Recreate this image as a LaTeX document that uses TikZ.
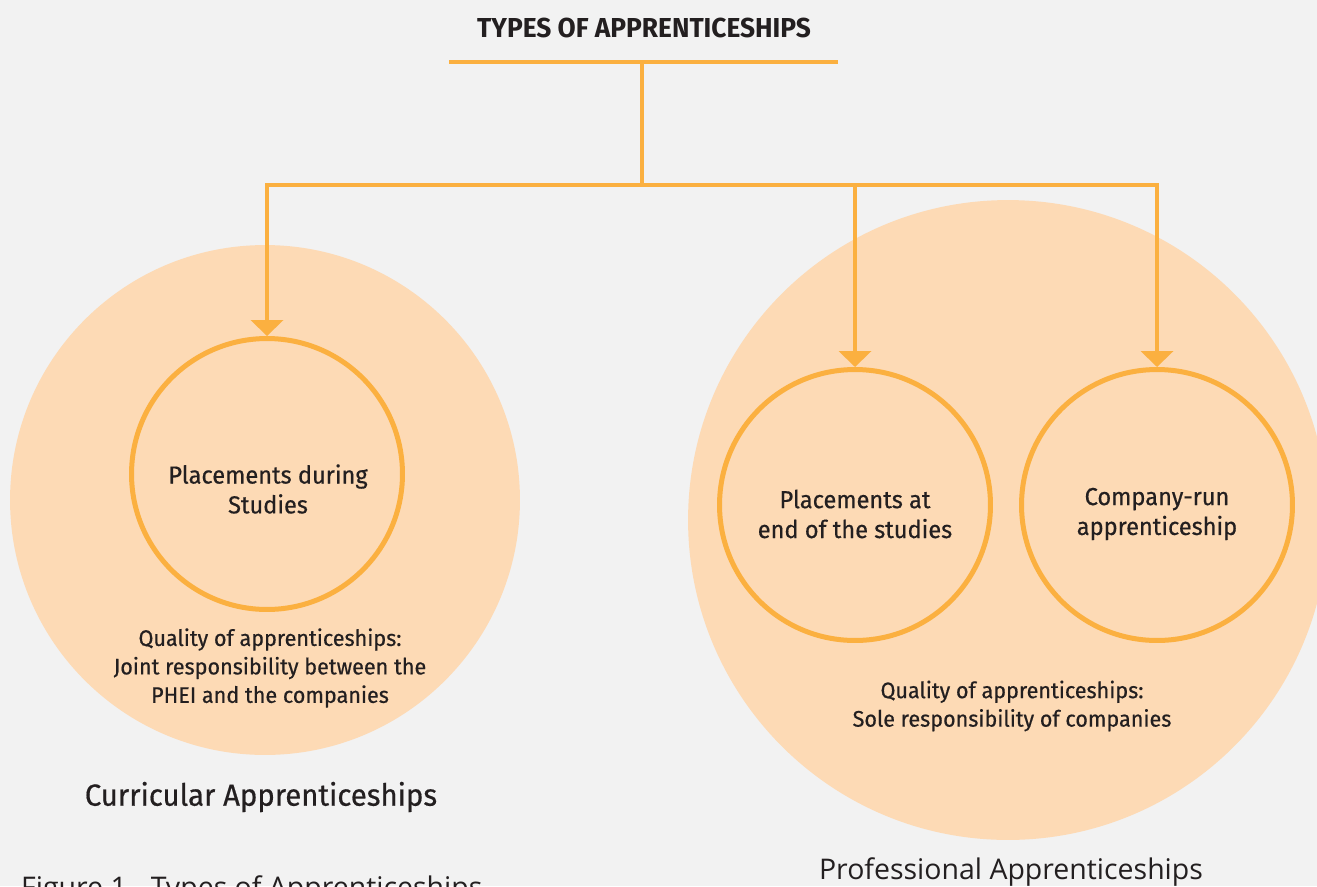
\documentclass[tikz,border=0pt]{standalone}
\usepackage{fontspec}
\setmainfont[FakeStretch=0.96,UprightFeatures={FakeBold=0.5}]{Fira Sans}
\newfontfamily\capfont{Open Sans}
\usetikzlibrary{arrows.meta}
\definecolor{bgcol}{HTML}{F2F2F2}
\definecolor{peach}{HTML}{FDDAB5}
\definecolor{amber}{HTML}{FBB040}
\definecolor{ink}{HTML}{231F20}

\begin{document}
\begin{tikzpicture}
            [x=0.02cm,y=-0.02cm,every node/.style={text=ink,align=center},
             group/.style={circle,fill=peach,minimum size=#1,inner sep=0pt},
             kind/.style={circle,draw=amber,line width=0.1cm,minimum size=5.42cm,inner sep=0pt},
             body/.style={font=\fontsize{14}{17}\selectfont},
             link/.style={draw=amber,line width=0.08cm},
             flow/.style={link,-{Triangle[width=0.64cm,length=0.32cm]}},
             note/.style={font=\fontsize{12.8}{16.2}\selectfont}]
            \useasboundingbox (0,0) rectangle (1317,886);
            \fill[bgcol] (0,0) rectangle (1317,886);

            % the two groups
            \node[group=10.2cm] (CUR) at (265,500) {};
            \node[group=12.8cm] (PRO) at (1008,520) {};

            \node[font=\fontsize{15.6}{18}\selectfont\bfseries] (title) at (644,28) {TYPES OF APPRENTICESHIPS};
            \coordinate (barL) at (449,62);
            \coordinate (barR) at (838,62);
            \coordinate (barM) at (642,62);
            \coordinate (hub) at (642,185);

            \node[kind] (P1) at (267,474) {};
            \node[kind] (P2) at (855,505) {};
            \node[kind] (P3) at (1157,505) {};
            \node[body] (P1t) at (268,489) {Placements during\\Studies};
            \node[body] (P2t) at (855,514) {Placements at\\end of the studies};
            \node[body] (P3t) at (1157,514) {Company-run\\apprenticeship};

            \draw[link] (barL) -- (barR);
            \draw[link] (barM) -- (hub);
            \draw[flow] (hub) -| (P1.north);
            \draw[flow] (hub) -| (P2.north);
            \draw[flow] (hub) -| (P3.north);

            \node[note] (Q1) at (270,668) {Quality of apprenticeships:\\Joint responsibility between the\\PHEI and the companies};
            \node[note] (Q2) at (1012,706) {Quality of apprenticeships:\\Sole responsibility of companies};

            \node[font=\fontsize{17.4}{20}\selectfont] (CA) at (261,797) {Curricular Apprenticeships};
            \node[font=\capfont\fontsize{16.2}{19}\selectfont] (PA) at (1011,872) {Professional Apprenticeships};
            \node[font=\capfont\fontsize{16.2}{19}\selectfont,anchor=base west] (fig) at (15,897) {Figure 1 - Types of Apprenticeships};
        \end{tikzpicture}
\end{document}
